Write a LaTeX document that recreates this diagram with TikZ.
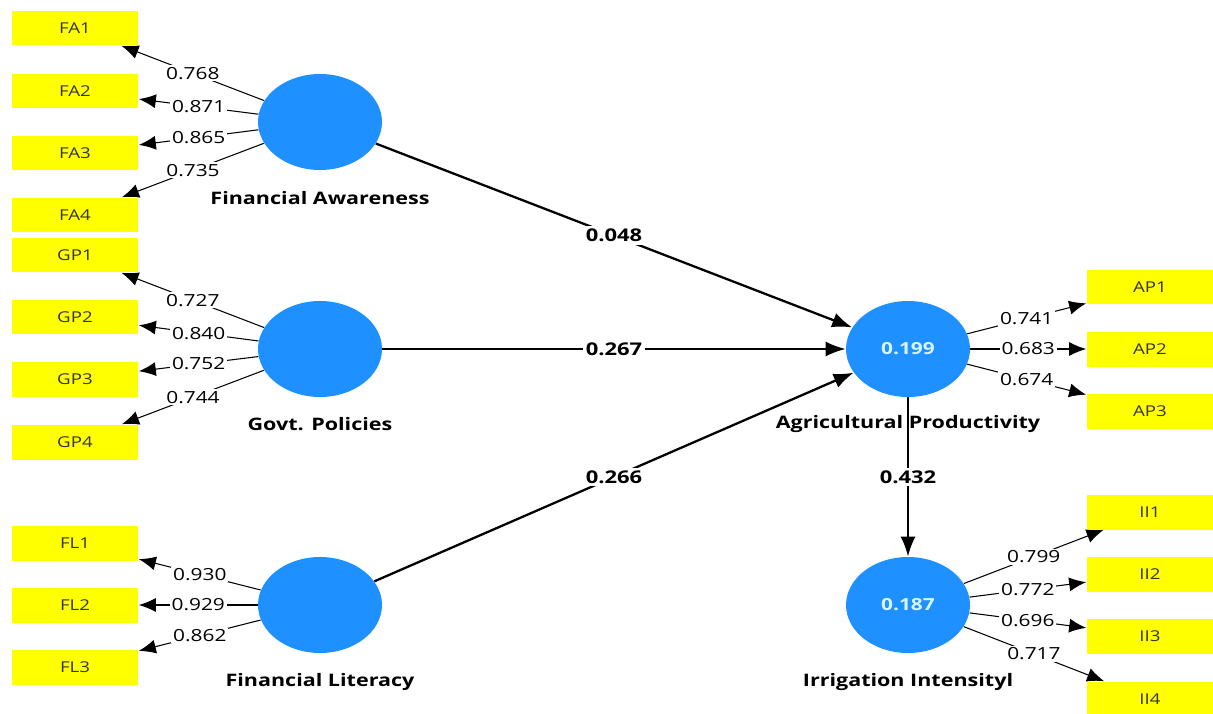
\documentclass[tikz,border=0pt]{standalone}
\usepackage{fontspec}
\setmainfont{Open Sans}[FakeStretch=1.25]
\usetikzlibrary{positioning}
\usetikzlibrary{shapes.geometric}
\usetikzlibrary{arrows.meta}

\definecolor{lvblue}{HTML}{1E90FF}
\definecolor{itemyellow}{HTML}{FFFF00}
\definecolor{itemtext}{HTML}{333333}
\definecolor{rsqtext}{HTML}{D8F4FF}

\begin{document}
\begin{tikzpicture}[
        x = 0.02cm, y = -0.02cm, % one unit per pixel, y downwards
        > = {Latex[length=3.4mm,width=2.8mm]}, % arrow head style
        item/.style = {fill=itemyellow, minimum width=2.54cm, minimum height=0.7cm,
                       inner sep=0pt, text=itemtext, font=\fontsize{8.5}{9}\selectfont},
        latent/.style = {ellipse, fill=lvblue, minimum width=2.48cm, minimum height=1.92cm,
                         inner sep=0pt, text=rsqtext, font=\fontsize{9.5}{10}\selectfont\bfseries},
        lvname/.style = {font=\fontsize{9.8}{11}\selectfont\bfseries},
        loading/.style = {->, line width=0.6pt},
        regression/.style = {-{Latex[length=4mm,width=3mm]}, line width=1.3pt},
        weight/.style = {fill=white, inner sep=1pt, font=\fontsize{9.5}{10}\selectfont},
        coef/.style = {fill=white, inner sep=1.5pt, font=\fontsize{10}{11}\selectfont\bfseries}
        ]

  \useasboundingbox (0,0) rectangle (1213,713);

  % indicators
  \node[item] (fa1) at (75,28) {FA1};
  \node[item] (fa2) at (75,91) {FA2};
  \node[item] (fa3) at (75,153) {FA3};
  \node[item] (fa4) at (75,215) {FA4};

  \node[item] (gp1) at (75,255) {GP1};
  \node[item] (gp2) at (75,317) {GP2};
  \node[item] (gp3) at (75,379) {GP3};
  \node[item] (gp4) at (75,442) {GP4};

  \node[item] (fl1) at (75,543) {FL1};
  \node[item] (fl2) at (75,605) {FL2};
  \node[item] (fl3) at (75,667) {FL3};

  \node[item] (ap1) at (1150,287) {AP1};
  \node[item] (ap2) at (1150,349) {AP2};
  \node[item] (ap3) at (1150,411) {AP3};

  \node[item] (ii1) at (1150,512) {II1};
  \node[item] (ii2) at (1150,574) {II2};
  \node[item] (ii3) at (1150,636) {II3};
  \node[item] (ii4) at (1150,699) {II4};

  % constructs
  \node[latent] (fa) at (320,122) {};
  \node[latent] (gp) at (320,349) {};
  \node[latent] (fl) at (320,605) {};
  \node[latent] (ap) at (908,349) {0.199};
  \node[latent] (ii) at (908,605) {0.187};

  \node[lvname] (faname) at (320,198) {Financial Awareness};
  \node[lvname] (gpname) at (320,424) {Govt. Policies};
  \node[lvname] (flname) at (320,682) {Financial Literacy};
  \node[lvname] (apname) at (908,424) {Agricultural Productivity};
  \node[lvname] (iiname) at (908,682) {Irrigation Intensityl};

  % outer loadings
  \draw[loading] (fa) -- node[weight] {0.768} (fa1);
  \draw[loading] (fa) -- node[weight] {0.871} (fa2);
  \draw[loading] (fa) -- node[weight] {0.865} (fa3);
  \draw[loading] (fa) -- node[weight] {0.735} (fa4);

  \draw[loading] (gp) -- node[weight] {0.727} (gp1);
  \draw[loading] (gp) -- node[weight] {0.840} (gp2);
  \draw[loading] (gp) -- node[weight] {0.752} (gp3);
  \draw[loading] (gp) -- node[weight] {0.744} (gp4);

  \draw[loading] (fl) -- node[weight] {0.930} (fl1);
  \draw[loading] (fl) -- node[weight] {0.929} (fl2);
  \draw[loading] (fl) -- node[weight] {0.862} (fl3);

  \draw[loading] (ap) -- node[weight] {0.741} (ap1);
  \draw[loading] (ap) -- node[weight] {0.683} (ap2);
  \draw[loading] (ap) -- node[weight] {0.674} (ap3);

  \draw[loading] (ii) -- node[weight] {0.799} (ii1);
  \draw[loading] (ii) -- node[weight] {0.772} (ii2);
  \draw[loading] (ii) -- node[weight] {0.696} (ii3);
  \draw[loading] (ii) -- node[weight] {0.717} (ii4);

  % path coefficients
  \draw[regression] (fa) -- node[coef] {0.048} (ap);
  \draw[regression] (gp) -- node[coef] {0.267} (ap);
  \draw[regression] (fl) -- node[coef] {0.266} (ap);
  \draw[regression] (ap) -- node[coef] {0.432} (ii);

\end{tikzpicture}
\end{document}
